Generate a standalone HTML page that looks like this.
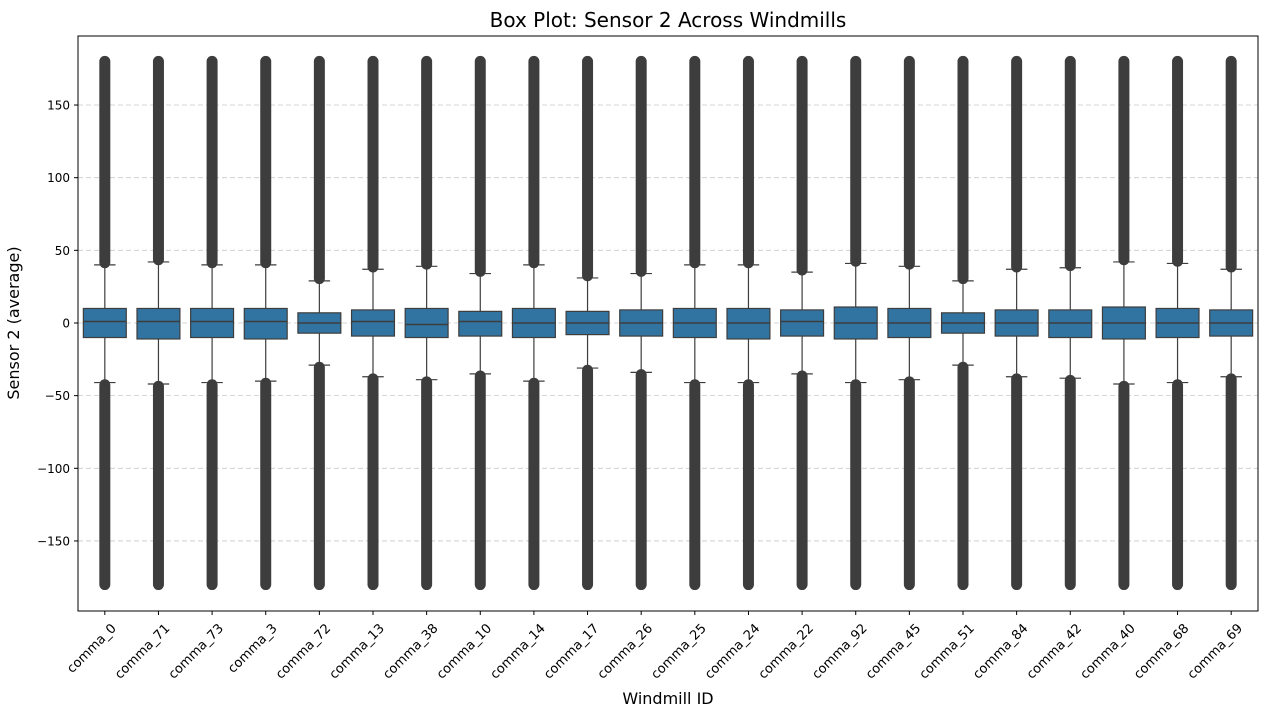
<!DOCTYPE html>
<html><head><meta charset="utf-8"><style>
body{margin:0;background:#fff;font-family:"Liberation Sans","DejaVu Sans",sans-serif;}
</style></head><body>
<svg id="chart" width="1278" height="709" xmlns="http://www.w3.org/2000/svg" font-family="DejaVu Sans, Liberation Sans, sans-serif">
<text x="668" y="27" text-anchor="middle" font-size="20">Box Plot: Sensor 2 Across Windmills</text>
<g id="grid"></g><g id="marks"></g><g id="axes"></g>
<text x="668" y="704" text-anchor="middle" font-size="16">Windmill ID</text>
<text transform="translate(19,323) rotate(-90)" text-anchor="middle" font-size="16">Sensor 2 (average)</text>
</svg>
<script>
const categories=["comma_0","comma_71","comma_73","comma_3","comma_72","comma_13","comma_38","comma_10","comma_14","comma_17","comma_26","comma_25","comma_24","comma_22","comma_92","comma_45","comma_51","comma_84","comma_42","comma_40","comma_68","comma_69"];
const q1=[-10,-11,-10,-11,-7,-9,-10,-9,-10,-8,-9,-10,-11,-9,-11,-10,-7,-9,-10,-11,-10,-9];
const q3=[10,10,10,10,7,9,10,8,10,8,9,10,10,9,11,10,7,9,9,11,10,9];
const medians=[1,1,1,1,0,1,-1,1,0,0,0,0,0,1,0,0,0,0,0,0,0,0];
const whiskerLow=[-41,-42,-41,-40,-29,-37,-39,-35,-40,-31,-34,-41,-41,-35,-41,-39,-29,-37,-38,-42,-41,-37];
const whiskerHigh=[40,42,40,40,29,37,39,34,40,31,34,40,40,35,41,39,29,37,38,42,41,37];
const outlierMin=[-180,-180,-180,-180,-180,-180,-180,-180,-180,-180,-180,-180,-180,-180,-180,-180,-180,-180,-180,-180,-180,-180];
const outlierMax=[180,180,180,180,180,180,180,180,180,180,180,180,180,180,180,180,180,180,180,180,180,180];
const yTicks=[-150,-100,-50,0,50,100,150];
const tickLabels=["\u2212150","\u2212100","\u221250","0","50","100","150"];
const L=78,R=1258,T=36,B=611,ymin=-198.2,ymax=197.5;
const NS="http://www.w3.org/2000/svg";
const step=(R-L)/categories.length;
function xPos(i){return L+step*(i+0.5);}
function yPos(v){return B-(v-ymin)/(ymax-ymin)*(B-T);}
function mk(parent,tag,attrs){const e=document.createElementNS(NS,tag);for(const k in attrs)e.setAttribute(k,attrs[k]);document.getElementById(parent).appendChild(e);return e;}
yTicks.forEach((v,i)=>{
  const g=mk('grid','line',{x1:L,x2:R,y1:yPos(v),y2:yPos(v),stroke:'#c8c8c8','stroke-dasharray':'5,3','stroke-width':0.8});
  
  
  const t=mk('axes','line',{x1:L-4,x2:L,y1:yPos(v),y2:yPos(v),stroke:'#000'});
  
  
  const tx=mk('axes','text',{x:L-8,y:yPos(v)+4.5,'text-anchor':'end','font-size':12});
  tx.textContent=tickLabels[i];
  
  
});
const bw=step*0.8;
categories.forEach((c,i)=>{
  const x=xPos(i);
  const o1=mk('marks','line',{x1:x,x2:x,y1:yPos(whiskerHigh[i]+1.5),y2:yPos(outlierMax[i]),stroke:'#3d3d3d','stroke-width':11,'stroke-linecap':'round'});
  
  
  const o2=mk('marks','line',{x1:x,x2:x,y1:yPos(whiskerLow[i]-1.5),y2:yPos(outlierMin[i]),stroke:'#3d3d3d','stroke-width':11,'stroke-linecap':'round'});
  
  
  const w=mk('marks','line',{x1:x,x2:x,y1:yPos(whiskerHigh[i]),y2:yPos(whiskerLow[i]),stroke:'#3d3d3d','stroke-width':1.2});
  
  
  [whiskerHigh[i],whiskerLow[i]].forEach(v=>{
    const cap=mk('marks','line',{x1:x-bw/4,x2:x+bw/4,y1:yPos(v),y2:yPos(v),stroke:'#3d3d3d','stroke-width':1.2});
    
    
  });
  const b=mk('marks','rect',{x:x-bw/2,y:yPos(q3[i]),width:bw,height:yPos(q1[i])-yPos(q3[i]),fill:'#3274a1',stroke:'#3d3d3d','stroke-width':1.2});
  
  
  const m=mk('marks','line',{x1:x-bw/2,x2:x+bw/2,y1:yPos(medians[i]),y2:yPos(medians[i]),stroke:'#3d3d3d','stroke-width':1.5});
  
  
  const t=mk('axes','line',{x1:x,x2:x,y1:B,y2:B+4,stroke:'#000'});
  
  
  const ax=x+12, ay=B+18;
  const tx=mk('axes','text',{x:ax,y:ay,'text-anchor':'end','font-size':13,transform:`rotate(-45 ${ax} ${ay})`});
  tx.textContent=c;
  
  
});
const fr=mk('axes','rect',{x:L,y:T,width:R-L,height:B-T,fill:'none',stroke:'#000','stroke-width':1});


</script>
</body></html>
